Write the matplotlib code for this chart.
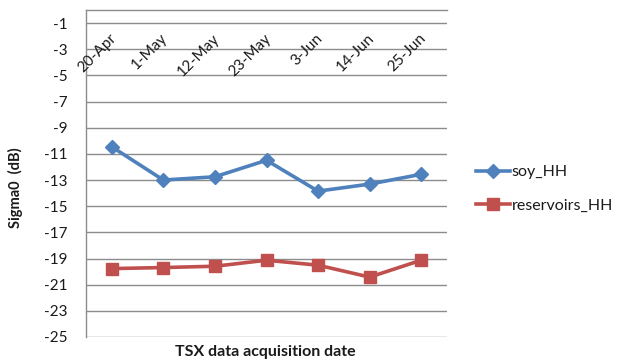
import matplotlib
matplotlib.use("Agg")
import matplotlib.pyplot as plt
from matplotlib.lines import Line2D

plt.rcParams['font.family'] = ['Lato', 'DejaVu Sans']

dates = ["20-Apr", "1-May", "12-May", "23-May", "3-Jun", "14-Jun", "25-Jun"]
soy_hh = [-10.46, -13.0, -12.75, -11.49, -13.85, -13.31, -12.56]
reservoirs_hh = [-19.77, -19.69, -19.59, -19.13, -19.51, -20.42, -19.13]
yticks = list(range(-25, 0, 2))

blue = "#4F81BD"
red = "#C0504D"
grid = "#8C8C8C"
txt = "#1a1a1a"

fig = plt.figure(figsize=(6.19, 3.63), dpi=100)
ax = fig.add_axes([86/619, 26/363, 361/619, 327/363])

x = list(range(len(dates)))
ax.plot(x, soy_hh, color=blue, lw=2.6, marker='D', ms=7.5, label="soy_HH", zorder=3)
ax.plot(x, reservoirs_hh, color=red, lw=2.6, marker='s', ms=9, label="reservoirs_HH", zorder=3)

ax.set_xlim(-0.5, len(dates) - 0.5)
ax.set_ylim(-25, 0)
ax.set_yticks(yticks)
ax.set_yticklabels([str(v) for v in yticks], fontsize=11, color=txt)
ax.tick_params(axis='y', length=0, pad=13)
ax.set_xticks([])
ax.yaxis.grid(True, color=grid, lw=1)
ax.set_axisbelow(True)
for s in ['right', 'bottom']:
    ax.spines[s].set_visible(False)
for s in ['left', 'top']:
    ax.spines[s].set_color(grid)
    ax.spines[s].set_linewidth(1)

for i, d in enumerate(dates):
    ax.text(i + 0.04, -2.0, d, rotation=45, rotation_mode='anchor',
            ha='right', va='center', fontsize=11, color=txt)

fig.text(15/619, 1 - 188/363, "Sigma0  (dB)", rotation=90, ha='center', va='center',
         fontsize=10.5, fontweight='bold', color=txt)
fig.text(265/619, 1 - 352/363, "TSX data acquisition date", ha='center', va='center',
         fontsize=11.5, fontweight='bold', color=txt)

handles = [Line2D([], [], color=blue, lw=2.6, marker='D', ms=7.5),
           Line2D([], [], color=red, lw=2.6, marker='s', ms=9)]
fig.legend(handles, ["soy_HH", "reservoirs_HH"], loc='center left',
           bbox_to_anchor=(462/619, 1 - 189/363), frameon=False, fontsize=11.5,
           handlelength=2.1, handletextpad=0.12, labelspacing=1.2, labelcolor=txt)

fig.savefig("out.png", dpi=100)
